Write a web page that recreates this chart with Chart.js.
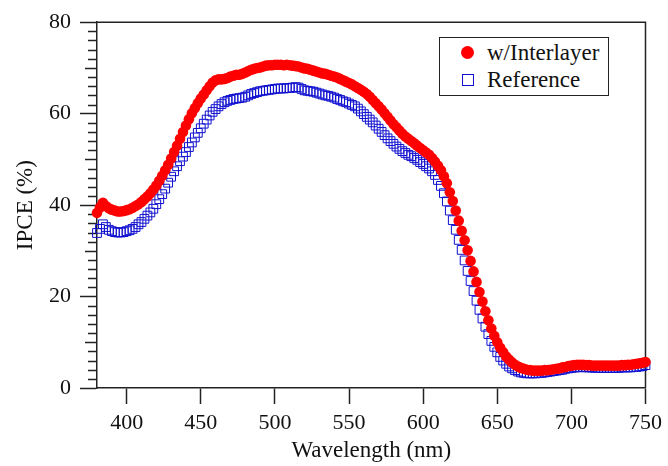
<!DOCTYPE html>
<html>
<head>
<meta charset="utf-8">
<script src="https://cdn.jsdelivr.net/npm/chart.js@4.4.1/dist/chart.umd.min.js"></script>
<style>
  html, body { margin: 0; padding: 0; background: #fff; }
  #wrap { position: relative; width: 668px; height: 466px; }
  #legend {
    position: absolute; left: 439px; top: 37px; width: 168px; height: 57px;
    border: 1.5px solid #222; background: #fff;
    font-family: 'Liberation Serif', 'Times New Roman', serif; font-size: 23px; color: #111;
  }
  .item { position: absolute; left: 0; height: 26px; line-height: 26px; }
  .item span { position: absolute; left: 47px; white-space: nowrap; }
  .dot { position: absolute; left: 21px; top: 6px; width: 13px; height: 13px; border-radius: 50%; background: #ff0000; }
  .sq { position: absolute; left: 22px; top: 7px; width: 10px; height: 10px; border: 1.5px solid #1010d0; }
</style>
</head>
<body>
<div id="wrap">
  <canvas id="chart" width="668" height="466"></canvas>
  <div id="legend">
    <div class="item" style="top:2px"><i class="dot"></i><span>w/Interlayer</span></div>
    <div class="item" style="top:29px"><i class="sq"></i><span>Reference</span></div>
  </div>
</div>
<script>
const wavelengths = [
  380, 382, 384, 386, 388, 390, 392, 394, 396, 398,
  400, 402, 404, 406, 408, 410, 412, 414, 416, 418,
  420, 422, 424, 426, 428, 430, 432, 434, 436, 438,
  440, 442, 444, 446, 448, 450, 452, 454, 456, 458,
  460, 462, 464, 466, 468, 470, 472, 474, 476, 478,
  480, 482, 484, 486, 488, 490, 492, 494, 496, 498,
  500, 502, 504, 506, 508, 510, 512, 514, 516, 518,
  520, 522, 524, 526, 528, 530, 532, 534, 536, 538,
  540, 542, 544, 546, 548, 550, 552, 554, 556, 558,
  560, 562, 564, 566, 568, 570, 572, 574, 576, 578,
  580, 582, 584, 586, 588, 590, 592, 594, 596, 598,
  600, 602, 604, 606, 608, 610, 612, 614, 616, 618,
  620, 622, 624, 626, 628, 630, 632, 634, 636, 638,
  640, 642, 644, 646, 648, 650, 652, 654, 656, 658,
  660, 662, 664, 666, 668, 670, 672, 674, 676, 678,
  680, 682, 684, 686, 688, 690, 692, 694, 696, 698,
  700, 702, 704, 706, 708, 710, 712, 714, 716, 718,
  720, 722, 724, 726, 728, 730, 732, 734, 736, 738,
  740, 742, 744, 746, 748, 750
];

// IPCE (%) with interlayer
const interlayer = [
  38.3, 39.5, 40.5, 39.8, 39.3, 39.0, 38.8, 38.6, 38.6, 38.7,
  38.9, 39.1, 39.4, 39.8, 40.2, 40.7, 41.3, 41.9, 42.6, 43.4,
  44.3, 45.3, 46.4, 47.6, 48.8, 50.2, 51.6, 53.0, 54.5, 56.0,
  57.4, 58.8, 60.1, 61.2, 62.3, 63.3, 64.2, 65.1, 66.0, 66.8,
  67.3, 67.5, 67.5, 67.6, 67.8, 68.1, 68.3, 68.5, 68.5, 68.7,
  69.0, 69.3, 69.6, 69.8, 70.0, 70.1, 70.3, 70.5, 70.6, 70.6,
  70.7, 70.7, 70.7, 70.6, 70.7, 70.6, 70.5, 70.4, 70.3, 70.1,
  69.9, 69.8, 69.6, 69.4, 69.2, 69.0, 68.8, 68.7, 68.5, 68.3,
  68.1, 67.9, 67.6, 67.3, 67.0, 66.7, 66.4, 66.0, 65.6, 65.2,
  64.8, 64.3, 63.7, 63.0, 62.3, 61.6, 60.9, 60.1, 59.3, 58.5,
  57.7, 57.0, 56.3, 55.6, 55.0, 54.5, 54.0, 53.5, 53.0, 52.5,
  52.0, 51.5, 51.0, 50.3, 49.5, 48.6, 47.6, 46.3, 44.8, 42.8,
  40.9, 38.8, 36.6, 34.4, 32.3, 30.1, 27.8, 25.5, 23.2, 21.0,
  18.9, 16.8, 14.8, 13.0, 11.4, 10.0, 8.8, 7.8, 6.9, 6.2,
  5.6, 5.1, 4.7, 4.4, 4.2, 4.0, 3.9, 3.8, 3.8, 3.8,
  3.8, 3.9, 3.9, 4.0, 4.1, 4.2, 4.3, 4.5, 4.6, 4.8,
  4.9, 5.0, 5.1, 5.1, 5.1, 5.0, 5.0, 4.9, 4.9, 4.9,
  4.9, 4.9, 4.9, 4.9, 4.9, 4.9, 4.9, 5.0, 5.0, 5.1,
  5.1, 5.2, 5.3, 5.4, 5.5, 5.7
];

// IPCE (%) reference device
const reference = [
  33.9, 34.8, 35.8, 35.2, 34.6, 34.3, 34.1, 34.0, 34.0, 34.1,
  34.3, 34.5, 34.8, 35.2, 35.8, 36.3, 37.0, 37.7, 38.4, 39.2,
  40.2, 41.3, 42.4, 43.6, 44.9, 46.2, 47.4, 48.5, 49.6, 50.6,
  51.6, 52.7, 53.7, 54.8, 55.8, 56.8, 57.8, 58.7, 59.6, 60.4,
  61.0, 61.6, 62.1, 62.5, 62.8, 63.0, 63.2, 63.3, 63.4, 63.5,
  63.7, 64.0, 64.3, 64.5, 64.7, 64.9, 65.0, 65.1, 65.2, 65.3,
  65.4, 65.5, 65.5, 65.5, 65.6, 65.6, 65.7, 65.8, 65.7, 65.4,
  65.1, 65.0, 64.9, 64.8, 64.6, 64.4, 64.2, 64.0, 63.9, 63.7,
  63.5, 63.2, 63.0, 62.7, 62.5, 62.2, 61.9, 61.6, 61.1, 60.5,
  59.9, 59.3, 58.7, 58.1, 57.4, 56.7, 56.0, 55.3, 54.6, 54.0,
  53.4, 52.8, 52.3, 51.8, 51.4, 51.0, 50.7, 50.3, 49.9, 49.4,
  49.0, 48.5, 48.0, 47.4, 46.6, 45.5, 44.2, 42.6, 40.8, 38.8,
  36.7, 34.6, 32.4, 30.2, 27.9, 25.6, 23.4, 21.2, 19.1, 17.1,
  15.2, 13.4, 11.8, 10.3, 9.0, 7.8, 6.8, 6.0, 5.3, 4.7,
  4.3, 3.9, 3.6, 3.4, 3.3, 3.2, 3.2, 3.2, 3.2, 3.3,
  3.3, 3.4, 3.5, 3.6, 3.7, 3.8, 3.9, 4.0, 4.2, 4.3,
  4.4, 4.5, 4.5, 4.6, 4.6, 4.5, 4.5, 4.5, 4.4, 4.4,
  4.4, 4.4, 4.4, 4.4, 4.4, 4.4, 4.4, 4.5, 4.5, 4.5,
  4.5, 4.6, 4.6, 4.7, 4.8, 5.0
];

const xRange = [380, 750];
const yRange = [0, 80];

const FONT = { family: "'Liberation Serif', 'Times New Roman', serif", size: 22 };
const TITLE_FONT = { family: "'Liberation Serif', 'Times New Roman', serif", size: 23 };
const INK = '#222';

function points(ys) {
  return wavelengths.map((x, i) => ({ x, y: ys[i] }));
}

// closes the box and adds the small ticks on the y axis
const frame = {
  id: 'frame',
  beforeDatasetsDraw(chart) {
    const { ctx, chartArea: a, scales: { y } } = chart;
    ctx.save();
    ctx.strokeStyle = INK;
    ctx.lineWidth = 1.5;
    ctx.beginPath();
    ctx.moveTo(a.left, a.top);
    ctx.lineTo(a.right, a.top);
    ctx.lineTo(a.right, a.bottom);
    for (let v = yRange[0]; v <= yRange[1]; v += 2) {
      if (v % 20 === 0) continue;
      const len = v % 10 === 0 ? 12 : 9;
      const py = Math.round(y.getPixelForValue(v)) + 0.5;
      ctx.moveTo(a.left - len, py);
      ctx.lineTo(a.left, py);
    }
    ctx.stroke();
    ctx.restore();
  }
};

new Chart(document.getElementById('chart'), {
  type: 'scatter',
  data: {
    datasets: [
      {
        label: 'w/Interlayer',
        data: points(interlayer),
        pointStyle: 'circle',
        pointRadius: 5.3,
        backgroundColor: '#ff0000',
        borderWidth: 0,
        clip: false
      },
      {
        label: 'Reference',
        data: points(reference),
        pointStyle: 'rect',
        pointRadius: 6.2,
        backgroundColor: 'rgba(0,0,0,0)',
        borderColor: '#1010d0',
        borderWidth: 1,
        clip: false
      }
    ]
  },
  options: {
    responsive: false,
    animation: false,
    layout: { padding: { left: 0, right: 19, top: 20, bottom: 0 } },
    plugins: { legend: { display: false }, tooltip: { enabled: false } },
    scales: {
      x: {
        type: 'linear',
        min: xRange[0],
        max: xRange[1],
        afterFit: s => { s.height = 78; },
        ticks: { stepSize: 50, includeBounds: false, font: FONT, color: '#111', padding: 6, maxRotation: 0 },
        grid: { drawOnChartArea: false, tickLength: 16, tickColor: INK, tickWidth: 1.5 },
        border: { color: INK, width: 1.5 },
        title: { display: true, text: 'Wavelength (nm)', font: TITLE_FONT, color: '#111', padding: { top: 0, bottom: 1 } }
      },
      y: {
        min: yRange[0],
        max: yRange[1],
        afterFit: s => { s.width = 97; },
        ticks: { stepSize: 20, font: FONT, color: '#111', padding: 9 },
        grid: { drawOnChartArea: false, tickLength: 17, tickColor: INK, tickWidth: 1.5 },
        border: { color: INK, width: 1.5 },
        title: { display: true, text: 'IPCE (%)', font: TITLE_FONT, color: '#111', padding: { top: 12, bottom: 0 } }
      }
    }
  },
  plugins: [frame]
});
</script>
</body>
</html>
